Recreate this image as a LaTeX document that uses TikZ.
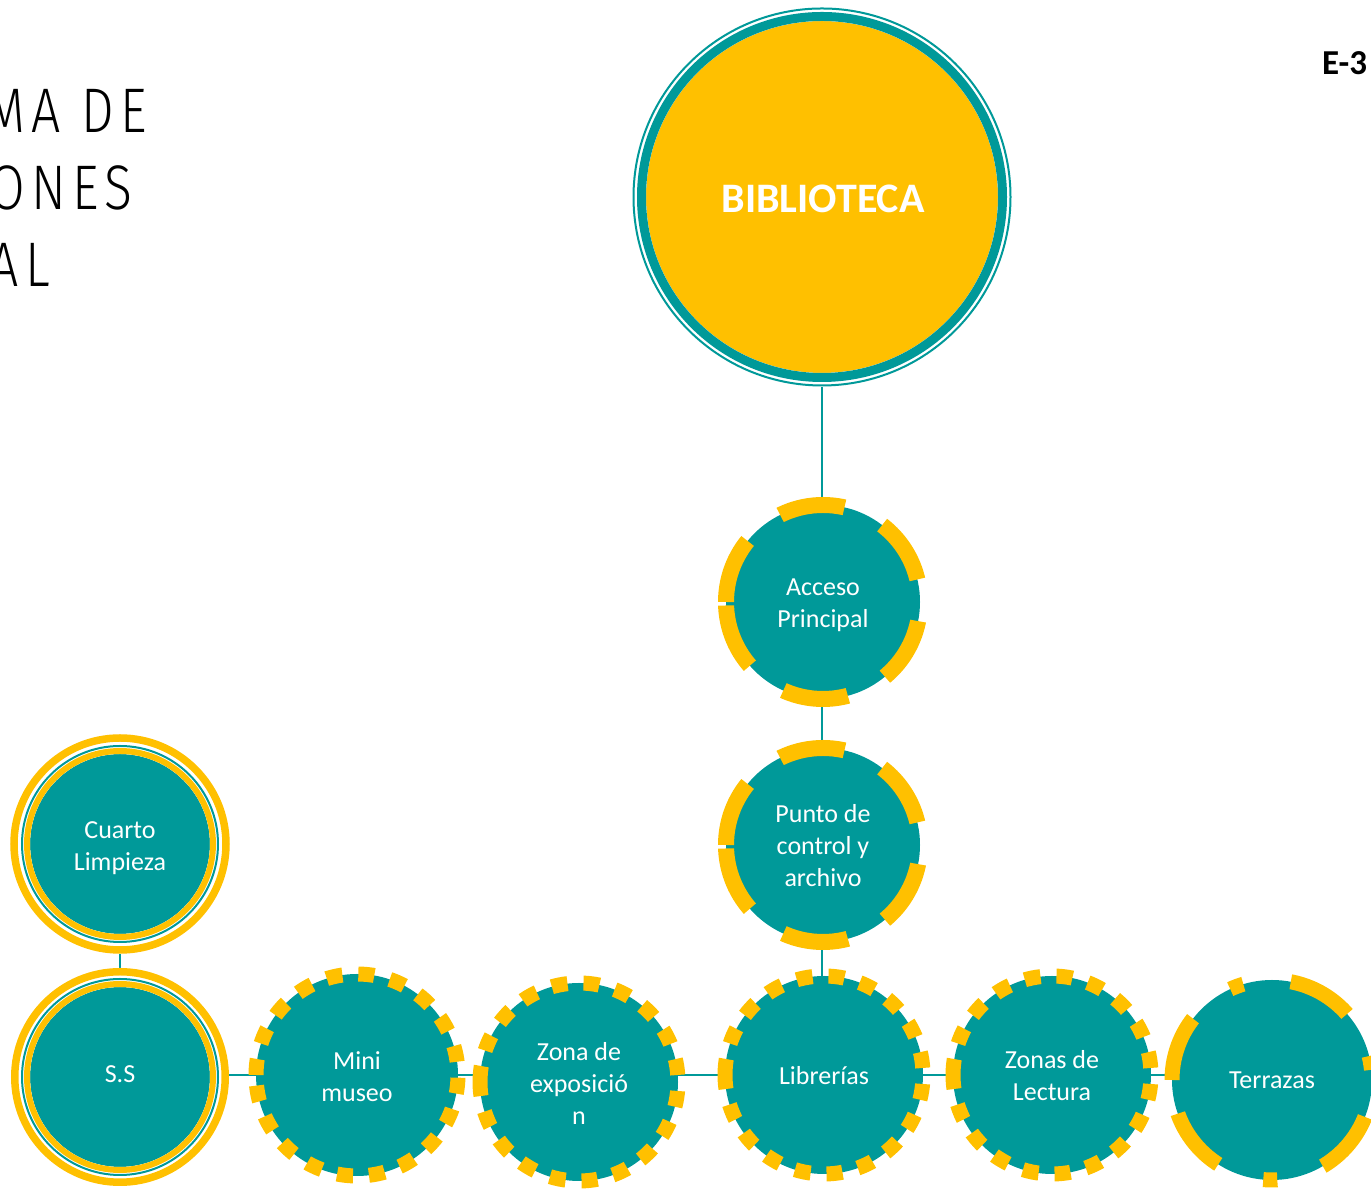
\documentclass[tikz,border=0pt]{standalone}
\usepackage{fontspec}
\setmainfont{Carlito}
\newfontfamily\titlefont[FakeStretch=0.82,LetterSpace=10]{Fira Sans Light}
\usetikzlibrary{backgrounds}
\definecolor{teal0}{RGB}{0,153,153}
\definecolor{gold0}{RGB}{255,192,0}
\begin{document}
\begin{tikzpicture}[x=1pt,y=1pt,
  disc/.style={circle, fill=teal0, inner sep=0pt, minimum size=#1},
  conn/.style={draw=teal0, line width=2pt},
  lbl/.style={text=white, font=\fontsize{26}{32}\selectfont, align=center, inner sep=0pt},
  longring/.style={draw=gold0, line width=16pt, dash pattern=on 66pt off 42pt},
  dotring/.style={draw=gold0, line width=15pt, dash pattern=on 16pt off 16pt},
  terrring/.style={draw=gold0, line width=15pt, dash pattern=on 66pt off 48pt on 14pt off 48pt},
  whitering/.style={draw=white, line width=#1},
  titletext/.style={anchor=base east, inner sep=0pt, font=\titlefont\fontsize{63}{77}\selectfont},
]
\useasboundingbox (0,0) rectangle (1371,1190);

% ---------- title (cut off at the left edge, as in the reference) ----------
\node[titletext] (t1) at (147,1057) {MA DE};
\node[titletext] (t2) at (133,980) {ONES};
\node[titletext] (t3) at (50,903) {AL};

\node[anchor=base west, inner sep=0pt, font=\bfseries\fontsize{35}{42}\selectfont] (code) at (1322,1115) {E-3};

% ---------- BIBLIOTECA ----------
\node[circle, fill=gold0, inner sep=0pt, minimum size=352pt] (bib) at (822,993) {};
\draw[whitering=14pt] (bib.center) circle[radius=183];
\draw[teal0, line width=9pt] (bib.center) circle[radius=180.5];
\draw[teal0, line width=2pt] (bib.center) circle[radius=188.5];
\node[text=white, inner sep=0pt, font=\bfseries\fontsize{42}{50}\selectfont] (bibt) at (823,991) {BIBLIOTECA};

% ---------- Acceso Principal ----------
\node[disc=194pt] (acc) at (823,588) {};
\draw[longring] (acc.center) ++(-97,0) arc[start angle=180, end angle=-180, radius=97];
\node[lbl] (acct) at (823,585) {Acceso\\Principal};

% ---------- Punto de control ----------
\node[disc=194pt] (pun) at (823,345) {};
\draw[longring] (pun.center) ++(-97,0) arc[start angle=180, end angle=-180, radius=97];
\node[lbl] (punt) at (823,344.7) {Punto de\\control y\\archivo};

% ---------- Cuarto Limpieza ----------
\node[disc=180pt] (cua) at (120,346) {};
\draw[whitering=20pt] (cua.center) circle[radius=100];
\draw[gold0, line width=6pt] (cua.center) circle[radius=93];
\draw[teal0, line width=2pt] (cua.center) circle[radius=98];
\draw[gold0, line width=7.5pt] (cua.center) circle[radius=106];
\node[lbl] (cuat) at (120,341.7) {Cuarto\\Limpieza};

% ---------- S.S ----------
\node[disc=180pt] (ss) at (120,113) {};
\draw[whitering=19pt] (ss.center) circle[radius=99.5];
\draw[gold0, line width=6pt] (ss.center) circle[radius=93];
\draw[teal0, line width=2pt] (ss.center) circle[radius=98];
\draw[gold0, line width=7.5pt] (ss.center) circle[radius=105.25];
\node[lbl] (sst) at (120,116.3) {S.S};

% ---------- Mini museo ----------
\node[disc=202pt] (mini) at (357,115) {};
\draw[dotring] (mini.center) ++(-101,0) arc[start angle=180, end angle=-180, radius=101];
\node[lbl] (minit) at (357,113.3) {Mini\\museo};

% ---------- Zona de exposicion ----------
\node[disc=198pt] (zona) at (579,108) {};
\draw[dotring] (zona.center) ++(-99,0) arc[start angle=180, end angle=-180, radius=99];
\node[lbl] (zonat) at (579,106.7) {Zona de\\exposició\\n};

% ---------- Librerias ----------
\node[disc=198pt] (lib) at (824,115) {};
\draw[dotring] (lib.center) ++(-99,0) arc[start angle=180, end angle=-180, radius=99];
\node[lbl] (libt) at (824,114) {Librerías};

% ---------- Zonas de Lectura ----------
\node[disc=198pt] (zonas) at (1052,115) {};
\draw[dotring] (zonas.center) ++(-99,0) arc[start angle=180, end angle=-180, radius=99];
\node[lbl] (zonast) at (1052,114.5) {Zonas de\\Lectura};

% ---------- Terrazas ----------
\node[disc=200pt] (terr) at (1272,110) {};
\draw[terrring] (terr.center) ++(-100,0) arc[start angle=180, end angle=-180, radius=100];
\node[lbl] (terrt) at (1272,109.5) {Terrazas};

% ---------- connectors ----------
\begin{scope}[on background layer]
  \draw[conn] (bib) -- (bib |- lib);
  \draw[conn] (cua) -- (ss);
  \draw[conn] (ss.center |- lib) -- (terr.center |- lib);
\end{scope}
\end{tikzpicture}
\end{document}
